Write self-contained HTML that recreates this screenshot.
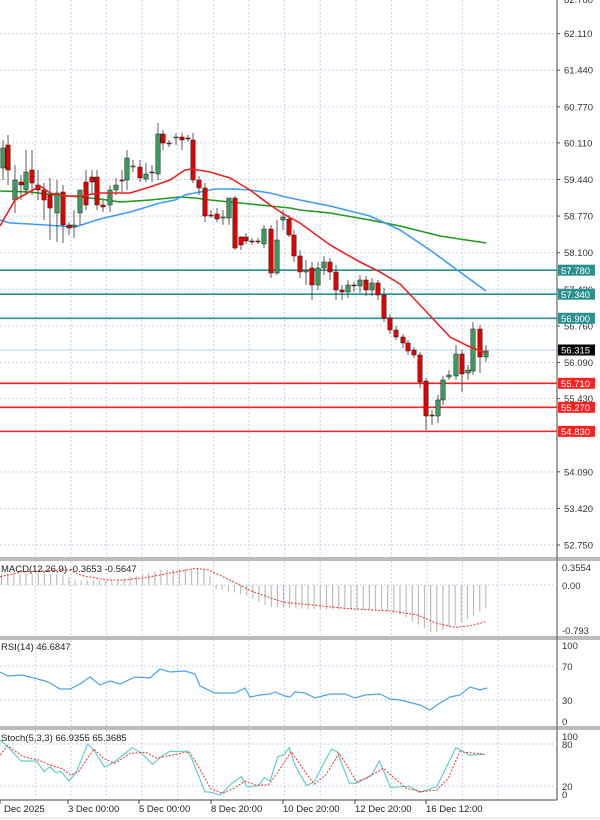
<!DOCTYPE html>
<html><head><meta charset="utf-8"><style>
html,body{margin:0;padding:0;background:#fff;}
svg{display:block;font-family:"Liberation Sans",sans-serif;}
</style></head><body>
<svg id="s" width="600" height="820" viewBox="0 0 600 820" xmlns="http://www.w3.org/2000/svg"></svg>
<script>
const S=document.getElementById('s');let h='';
const PY=p=>33.6+(62.11-p)*54.64;
const R=557;
// panels
const panels=[[0,557],[561,636],[640,726],[730,800]];
// vertical grid
let vx=[];for(let k=-2;k<=13;k++){let x=427-35.6*k;if(x>0&&x<R)vx.push(x);}
for(const [t,b] of panels){for(const x of vx)h+=`<line x1="${x}" y1="${t}" x2="${x}" y2="${b}" stroke="#c6d3ea" stroke-dasharray="2,2"/>`;}
// price grid + labels
const pl=[62.110,61.440,60.770,60.110,59.440,58.770,58.100,57.430,56.760,56.090,55.430,54.090,53.420,52.750];
for(const p of pl){const y=PY(p);h+=`<line x1="0" y1="${y}" x2="${R}" y2="${y}" stroke="#c6d3ea" stroke-dasharray="2,2"/><line x1="${R}" y1="${y}" x2="${R+3}" y2="${y}" stroke="#555"/><text x="564" y="${y+3.5}" font-size="9.5" fill="#333">${p.toFixed(3)}</text>`;}
h+=`<text x="564" y="3" font-size="9.5" fill="#333">62.780</text>`;
// MAs
const pts=a=>a.map(q=>q.join(',')).join(' ');
const red=[[0,226],[15,200],[40,186],[50,193],[65,196],[80,196],[100,193],[130,193],[150,187],[170,180],[185,170],[192,169],[210,172],[230,178],[250,190],[270,205],[285,215],[300,223],[330,245],[360,262],[380,272],[400,284],[420,305],[450,337],[470,347],[486,353]];
const blue=[[0,220],[10,223],[30,224],[60,226],[75,227],[100,219],[130,212],[160,203],[175,200],[185,195],[200,192],[215,189],[235,189],[250,190],[270,193],[290,198],[300,200],[330,206],[370,216],[400,230],[430,250],[460,272],[486,291]];
const green=[[0,191],[30,192],[55,195],[80,197],[100,199],[120,202],[150,200],[180,197],[195,198],[210,200],[240,203],[270,206],[290,208],[300,210],[330,213],[370,220],[400,226],[440,236],[486,243]];
// candles [x,o,c,hi,lo] in y coords
const C=[[3,168,148,140,180],[8,145,170,135,185],[15,200,180,165,213],[21,182,185,175,200],[26,190,172,150,195],[32,170,183,150,195],[38,185,190,170,200],[44,190,200,183,220],[50,195,208,178,240],[57,213,193,180,242],[63,192,225,185,243],[69,225,228,222,235],[74,227,225,210,238],[80,213,190,200,225],[86,182,205,170,210],[92,177,182,170,195],[97,177,205,170,210],[103,205,207,200,212],[110,205,190,185,212],[116,190,185,178,195],[122,180,180,170,192],[127,180,158,150,190],[133,167,166,160,172],[140,167,178,160,182],[146,179,174,163,182],[152,172,172,165,182],[158,174,134,123,180],[163,134,143,130,150],[169,143,143,140,147],[176,138,137,133,145],[182,137,140,133,150],[188,138,138,135,142],[193,140,180,133,183],[199,180,188,176,195],[205,188,216,183,222],[211,215,215,210,218],[217,214,219,208,222],[223,218,217,210,225],[229,218,198,198,225],[235,198,248,196,250],[241,237,245,236,250],[246,237,241,233,244],[252,241,241,238,245],[258,241,242,238,244],[264,244,229,225,248],[271,229,273,225,278],[277,273,240,220,275],[283,220,217,210,230],[289,219,235,215,237],[294,235,256,230,262],[300,256,272,250,278],[306,272,270,260,285],[312,268,285,262,300],[318,285,268,262,290],[324,268,262,256,275],[330,262,272,258,280],[336,272,290,265,300],[342,290,292,285,300],[348,292,285,280,298],[354,285,286,282,292],[360,286,280,275,293],[366,280,290,276,296],[372,290,283,278,296],[378,283,295,280,300],[384,295,318,288,322],[390,318,330,314,334],[396,330,337,326,340],[403,337,343,334,348],[408,343,351,340,355],[414,350,355,347,358],[420,355,382,352,388],[426,381,416,378,430],[432,415,416,410,425],[438,416,400,395,423],[443,400,380,376,405],[449,377,375,370,380],[456,376,354,345,380],[462,354,374,350,392],[468,373,370,365,380],[473,371,329,322,375],[480,329,357,325,373],[486,357,351,345,362]];
// horizontal level lines
const lv=[[57.78,'#2b9191','57.780'],[57.34,'#2b9191','57.340'],[56.90,'#2b9191','56.900'],[55.71,'#ff2020','55.710'],[55.27,'#ff2020','55.270'],[54.83,'#ff2020','54.830']];
h+=`<line x1="0" y1="350" x2="${R}" y2="350" stroke="#bcd0ee" stroke-width="1"/>`;
for(const [p,c] of lv){const y=PY(p);h+=`<line x1="0" y1="${y}" x2="${R}" y2="${y}" stroke="${c}" stroke-width="1.6"/>`;}
h+=`<polyline points="${pts(green)}" fill="none" stroke="#1f9a1f" stroke-width="1.6"/>`;
h+=`<polyline points="${pts(blue)}" fill="none" stroke="#3d9cf5" stroke-width="1.6"/>`;
for(const [x,o,c,hi,lo] of C){const up=c<o;const col=up?'#3c9a5f':'#e00000';const t=Math.min(o,c),b=Math.max(o,c);
h+=`<line x1="${x}" y1="${hi}" x2="${x}" y2="${lo}" stroke="#333" stroke-width="0.8"/>`;
h+=`<rect x="${x-2.2}" y="${t}" width="4.4" height="${Math.max(b-t,1)}" fill="${col}" stroke="#222" stroke-width="0.5"/>`;}
h+=`<polyline points="${pts(red)}" fill="none" stroke="#f02020" stroke-width="1.6"/>`;
for(const [p,c,t] of lv){const y=PY(p);h+=`<rect x="558" y="${y-5.5}" width="37" height="11" fill="${c}"/><text x="561" y="${y+3.8}" font-size="9.5" fill="#fff">${t}</text>`;}
h+=`<rect x="558" y="344.5" width="37" height="11" fill="#000"/><text x="561" y="353.5" font-size="9.5" fill="#fff">56.315</text>`;
// panel borders
h+=`<line x1="${R}" y1="0" x2="${R}" y2="800" stroke="#444"/>`;
for(const y of [558,560,637,639,727,729])h+=`<line x1="0" y1="${y}" x2="600" y2="${y}" stroke="#777"/>`;
h+=`<line x1="0" y1="800" x2="${R}" y2="800" stroke="#444"/>`;
// MACD
const Z=585;
h+=`<line x1="0" y1="${Z}" x2="${R}" y2="${Z}" stroke="#c6d3ea" stroke-dasharray="2,2"/>`;
function hist(rx){const prof=[[0,55],[160,58],[200,75],[300,78],[420,45],[540,40],[560,100],[640,120],[700,155],[800,162],[1000,165],[1050,180],[1130,235],[1200,205],[1268,160]];
for(let i=0;i<prof.length-1;i++){const[a,ya]=prof[i],[b,yb]=prof[i+1];if(rx>=a&&rx<=b)return ya+(yb-ya)*(rx-a)/(b-a);}return 90;}
for(let rx=4;rx<=1268;rx+=16){const x=rx/2.61;const y=hist(rx)/3+555;h+=`<line x1="${x}" y1="${Z}" x2="${x}" y2="${y}" stroke="#bdbdbd" stroke-width="1.2"/>`;}
const ms=[[0,65],[60,50],[180,45],[215,62],[280,75],[320,75],[380,68],[440,55],[510,40],[545,45],[600,75],[660,110],[740,142],[800,148],[900,160],[1020,168],[1090,180],[1140,205],[1190,217],[1230,212],[1268,200]].map(([a,b])=>[a/2.61,b/3+555]);
h+=`<polyline points="${pts(ms)}" fill="none" stroke="#f03030" stroke-width="1" stroke-dasharray="2,1.5"/>`;
h+=`<text x="1" y="572" font-size="9.5" fill="#222">MACD(12,26,9) -0.3653 -0.5647</text>`;
h+=`<text x="562" y="571" font-size="9.5" fill="#333">0.3554</text><text x="562" y="589" font-size="9.5" fill="#333">0.00</text><text x="562" y="634" font-size="9.5" fill="#333">-0.793</text>`;
// RSI
for(const y of [666,700])h+=`<line x1="0" y1="${y}" x2="${R}" y2="${y}" stroke="#c6d3ea" stroke-dasharray="2,2"/>`;
const rsi=[[0,672],[8,676],[22,675],[30,677],[45,681],[50,683],[60,689],[70,689],[80,684],[90,677],[100,685],[110,681],[120,684],[135,677],[150,678],[160,669],[170,672],[185,671],[195,674],[200,686],[215,693],[230,693],[235,693],[245,688],[250,697],[260,695],[270,694],[275,692],[285,696],[290,697],[295,692],[305,693],[315,698],[330,694],[345,694],[355,698],[365,695],[380,694],[390,699],[400,700],[420,705],[430,710],[440,703],[450,697],[460,695],[470,687],[480,690],[487,688]].map(([a,b])=>[a*3/2.61*0.87,b]);
h+=`<polyline points="${pts(rsi)}" fill="none" stroke="#4aa3f0" stroke-width="1.2"/>`;
h+=`<text x="1" y="650" font-size="9.5" fill="#222">RSI(14) 46.6847</text>`;
h+=`<text x="562" y="649" font-size="9.5" fill="#333">100</text><text x="562" y="670" font-size="9.5" fill="#333">70</text><text x="562" y="704" font-size="9.5" fill="#333">30</text><text x="562" y="725" font-size="9.5" fill="#333">0</text>`;
// Stoch
for(const y of [744,786])h+=`<line x1="0" y1="${y}" x2="${R}" y2="${y}" stroke="#c6d3ea" stroke-dasharray="2,2"/>`;
const cv=a=>a.map(([x,y])=>[x/2.61,y/3+555]);
const sm=cv([[0,555],[20,575],[55,618],[95,618],[115,650],[130,635],[145,652],[160,650],[180,678],[200,650],[228,568],[245,585],[272,636],[300,620],[345,578],[370,595],[398,628],[420,605],[445,588],[460,590],[488,588],[500,610],[535,710],[550,712],[575,720],[605,685],[630,665],[645,695],[675,692],[690,668],[705,678],[725,605],[740,600],[755,578],[770,630],[800,692],[820,680],[865,582],[880,590],[912,685],[930,685],[970,660],[990,618],[1020,698],[1045,695],[1070,695],[1095,712],[1140,695],[1190,578],[1225,600],[1265,598]]);
const ss=cv([[0,600],[20,572],[60,605],[100,615],[130,630],[160,640],[185,660],[205,650],[245,582],[270,610],[300,625],[340,595],[380,592],[410,610],[450,600],[495,590],[525,650],[550,700],[580,715],[610,700],[640,678],[665,690],[700,690],[720,660],[760,590],[790,640],[820,688],[850,660],[885,595],[910,640],[930,680],[960,668],[1000,640],[1030,670],[1060,700],[1100,710],[1140,705],[1170,670],[1200,590],[1265,598]]);
h+=`<polyline points="${pts(sm)}" fill="none" stroke="#5fcfc8" stroke-width="1.2"/>`;
h+=`<polyline points="${pts(ss)}" fill="none" stroke="#f03030" stroke-width="1" stroke-dasharray="2,1.5"/>`;
h+=`<text x="1" y="741" font-size="9.5" fill="#222">Stoch(5,3,3) 66.9355 65.3685</text>`;
h+=`<text x="562" y="740" font-size="9.5" fill="#333">100</text><text x="562" y="748" font-size="9.5" fill="#333">80</text><text x="562" y="790" font-size="9.5" fill="#333">20</text><text x="562" y="798" font-size="9.5" fill="#333">0</text>`;
// time axis
const tl=[[3,'Dec 2025'],[68,'3 Dec 00:00'],[139,'5 Dec 00:00'],[211,'8 Dec 20:00'],[283,'10 Dec 20:00'],[355,'12 Dec 20:00'],[426,'16 Dec 12:00']];
for(const [x,t] of tl){h+=`<line x1="${x===3?0:x}" y1="800" x2="${x===3?0:x}" y2="804" stroke="#444"/><text x="${x===3?4:x}" y="812" font-size="9.5" fill="#222">${t}</text>`;}
h+=`<line x1="0" y1="818" x2="600" y2="818" stroke="#ddd"/>`;
S.innerHTML=h;
</script>
</body></html>
